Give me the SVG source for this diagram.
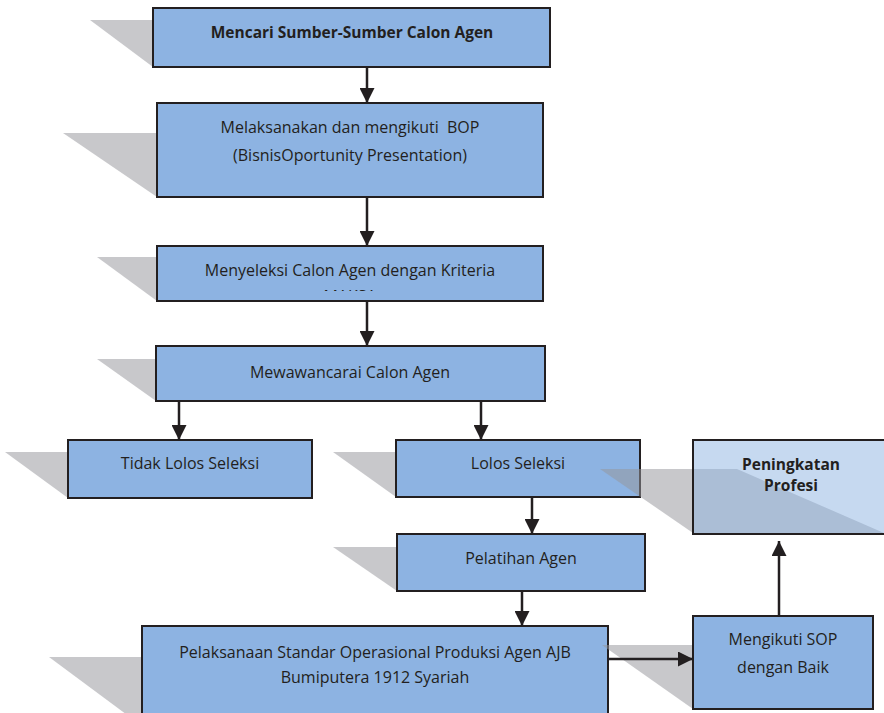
<svg xmlns="http://www.w3.org/2000/svg" width="884" height="713" viewBox="0 0 884 713">
<defs>
<style>
.sh{fill:rgb(150,150,155);fill-opacity:0.52}
.bx{fill:#8DB3E2;stroke:#231F20;stroke-width:2}
.bxl{fill:#8DB3E2;fill-opacity:0.5;stroke:#231F20;stroke-width:2}
.t{font-family:"Open Sans","Liberation Sans",sans-serif;font-size:16px;fill:#231F20;text-anchor:middle;white-space:pre}
.b{font-weight:bold;font-size:15.5px}
.c{fill:none;stroke:#231F20;stroke-width:2.5}
</style>
<marker id="ah" markerUnits="userSpaceOnUse" markerWidth="15" markerHeight="15" refX="15" refY="7.5" orient="auto">
<path d="M0,0 L15,7.5 L0,15 z" fill="#231F20"/>
</marker>
<clipPath id="clip3"><rect x="157" y="246" width="386" height="45"/></clipPath>
</defs>
<rect width="884" height="713" fill="#fff"/>
<g id="n1">
<polygon class="sh" points="90,20 480,20 550,67 153,67"/>
<rect class="bx" x="153" y="8" width="397" height="59"/>
<text class="t b" x="352" y="38">Mencari Sumber-Sumber Calon Agen</text>
</g>
<g id="n2">
<polygon class="sh" points="63,133 470,133 543,197 157,197"/>
<rect class="bx" x="157" y="103" width="386" height="94"/>
<text class="t" x="350" y="133" xml:space="preserve">Melaksanakan dan mengikuti  BOP</text>
<text class="t" x="350" y="161">(BisnisOportunity Presentation)</text>
</g>
<g id="n3">
<polygon class="sh" points="97,257 480,257 543,301 157,301"/>
<rect class="bx" x="157" y="246" width="386" height="55"/>
<text class="t" x="350" y="276">Menyeleksi Calon Agen dengan Kriteria</text>
<text class="t" x="350" y="302" clip-path="url(#clip3)">MAKSA</text>
</g>
<g id="n4">
<polygon class="sh" points="97,359 480,359 545,401 156,401"/>
<rect class="bx" x="156" y="346" width="389" height="55"/>
<text class="t" x="350" y="378">Mewawancarai Calon Agen</text>
</g>
<g id="n5">
<polygon class="sh" points="5,452 250,452 312,498 68,498"/>
<rect class="bx" x="68" y="440" width="244" height="58"/>
<text class="t" x="190" y="469">Tidak Lolos Seleksi</text>
</g>
<g id="n6">
<polygon class="sh" points="333,452 580,452 640,497 396,497"/>
<rect class="bx" x="396" y="440" width="244" height="57"/>
<text class="t" x="518" y="469">Lolos Seleksi</text>
</g>
<g id="n7">
<polygon class="sh" points="333,547 580,547 645,591 397,591"/>
<rect class="bx" x="397" y="534" width="248" height="57"/>
<text class="t" x="521" y="564">Pelatihan Agen</text>
</g>
<g id="n8">
<polygon class="sh" points="49,657 540,657 608,726 142,726"/>
<rect class="bx" x="142" y="626" width="466" height="104"/>
<text class="t" x="375" y="658">Pelaksanaan Standar Operasional Produksi Agen AJB</text>
<text class="t" x="375" y="683">Bumiputera 1912 Syariah</text>
</g>
<g id="n9">
<polygon class="sh" points="602,645 800,645 873,709 693,709"/>
<rect class="bx" x="693" y="616" width="180" height="93"/>
<text class="t" x="783" y="645">Mengikuti SOP</text>
<text class="t" x="783" y="673">dengan Baik</text>
</g>
<g id="n10">
<polygon class="sh" points="600,469 737,469 884,533 693,533"/>
<rect class="bxl" x="693" y="440" width="197" height="94"/>
<text class="t b" x="791" y="470">Peningkatan</text>
<text class="t b" x="791" y="491">Profesi</text>
</g>
<g id="connectors">
<line class="c" x1="367" y1="67" x2="367" y2="103" marker-end="url(#ah)"/>
<line class="c" x1="367" y1="197" x2="367" y2="246" marker-end="url(#ah)"/>
<line class="c" x1="367" y1="301" x2="367" y2="346" marker-end="url(#ah)"/>
<line class="c" x1="179" y1="401" x2="179" y2="440" marker-end="url(#ah)"/>
<line class="c" x1="481" y1="401" x2="481" y2="440" marker-end="url(#ah)"/>
<line class="c" x1="532" y1="497" x2="532" y2="534" marker-end="url(#ah)"/>
<line class="c" x1="522" y1="591" x2="522" y2="626" marker-end="url(#ah)"/>
<line class="c" x1="608" y1="659" x2="693" y2="659" marker-end="url(#ah)"/>
<line class="c" x1="779" y1="616" x2="779" y2="541" marker-end="url(#ah)"/>
</g>
</svg>
